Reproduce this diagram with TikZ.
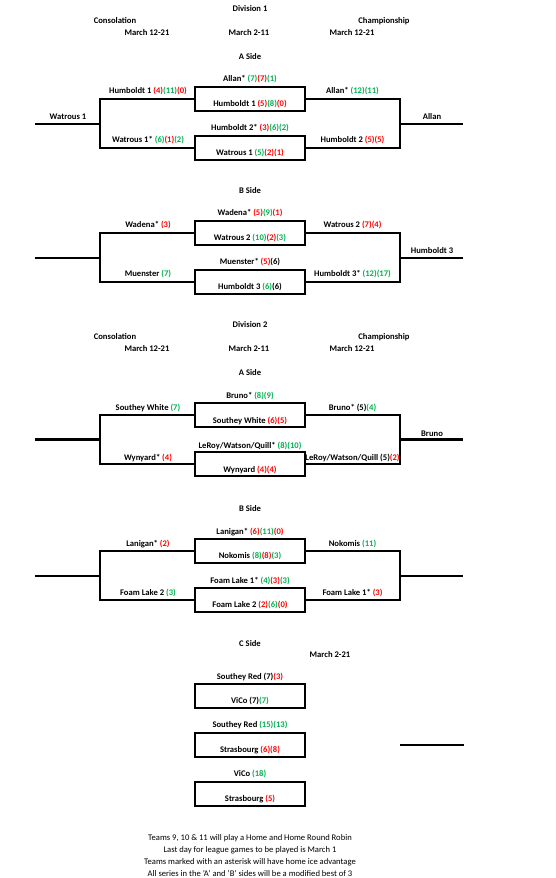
\documentclass[tikz,border=0pt]{standalone}
\usepackage{fontspec}
\setmainfont{Carlito}
\definecolor{wingreen}{HTML}{00B050}
\definecolor{lossred}{HTML}{FF0000}
\newcommand{\won}[1]{\textcolor{wingreen}{#1}}
\newcommand{\lost}[1]{\textcolor{lossred}{#1}}

\begin{document}
\begin{tikzpicture}[x=1pt,y=-1pt,
  team/.style={font=\bfseries\fontsize{8.6}{10}\selectfont,inner sep=0pt,text height=5.5pt,text depth=0pt},
  note/.style={font=\fontsize{8.6}{10}\selectfont,inner sep=0pt,text height=5.5pt,text depth=0pt},
  matchbox/.style={draw,line width=2pt,minimum width=110.6pt,minimum height=24pt,inner sep=0pt},
  bracket/.style={line width=2pt}]
\useasboundingbox (0,0) rectangle (556,878);
% division headings
\foreach \dy/\d in {0/1,316/2}{
\begin{scope}[shift={(0,\dy)}]
\node[team] (div\d) at (250,9) {Division \d};
\node[team] (cons\d) at (115,21) {Consolation};
\node[team] (champ\d) at (384,21) {Championship};
\node[team] (consdate\d) at (147,33) {March 12-21};
\node[team] (firstdate\d) at (249,33) {March 2-11};
\node[team] (champdate\d) at (352,33) {March 12-21};
\end{scope}}
% A and B sides
\foreach \dy/\s/\side/\w in {0/a/A/2,134/b/B/2,316/c/A/2.6,452/d/B/2}{
\begin{scope}[shift={(0,\dy)}]
\node[team] (side\s) at (250,57) {\side\ Side};
\node[matchbox] (top\s) at (250,98.7) {};
\node[matchbox] (bot\s) at (250,147.7) {};
\coordinate (lfork\s) at (99.5,123.5);
\coordinate (lend\s) at (35,123.5);
\coordinate (rfork\s) at (399.5,123.5);
\coordinate (rend\s) at (463,123.5);
\draw[bracket] (top\s.west) -| (lfork\s) |- (bot\s.west);
\draw[bracket] (top\s.east) -| (rfork\s) |- (bot\s.east);
\draw[line width=\w pt] (lend\s) -- (lfork\s);
\draw[line width=\w pt] (rfork\s) -- (rend\s);
\end{scope}}
% division 1, A side
\node[team] (allan) at (250,79) {Allan* \won{(7)}\lost{(7)}\won{(1)}};
\node[team] (humbA) at (148,91) {Humboldt 1 \lost{(4)}\won{(11)}\lost{(0)}};
\node[team] (allanA) at (352.5,91) {Allan* \won{(12)}\won{(11)}};
\node[team] (humb) at (250,104) {Humboldt 1 \lost{(5)}\won{(8)}\lost{(0)}};
\node[team] (watA) at (68,117) {Watrous 1};
\node[team] (allanwin) at (432,117) {Allan};
\node[team] (humbtwo) at (250,128) {Humboldt 2* \lost{(3)}\won{(6)}\won{(2)}};
\node[team] (watB) at (148,140) {Watrous 1* \won{(6)}\lost{(1)}\won{(2)}};
\node[team] (humbB) at (352.5,140) {Humboldt 2 \lost{(5)}\lost{(5)}};
\node[team] (wat) at (250,153) {Watrous 1 \won{(5)}\lost{(2)}\lost{(1)}};
% division 1, B side
\node[team] (wad) at (250,213) {Wadena* \lost{(5)}\won{(9)}\lost{(1)}};
\node[team] (wadA) at (148,225) {Wadena* \lost{(3)}};
\node[team] (wattwoA) at (352.5,225) {Watrous 2 \lost{(7)}\lost{(4)}};
\node[team] (wattwo) at (250,238) {Watrous 2 \won{(10)}\lost{(2)}\won{(3)}};
\node[team] (humbwin) at (432,251) {Humboldt 3};
\node[team] (mue) at (250,262) {Muenster* \lost{(5)}(6)};
\node[team] (mueB) at (148,274) {Muenster \won{(7)}};
\node[team] (humbthreeB) at (352.5,274) {Humboldt 3* \won{(12)}\won{(17)}};
\node[team] (humbthree) at (250,287) {Humboldt 3 \won{(6)}(6)};
% division 2, A side
\node[team] (bru) at (250,395.5) {Bruno* \won{(8)}\won{(9)}};
\node[team] (souA) at (148,408) {Southey White \won{(7)}};
\node[team] (bruA) at (352.5,408) {Bruno* (5)\won{(4)}};
\node[team] (sou) at (250,420.5) {Southey White \lost{(6)}\lost{(5)}};
\node[team] (bruwin) at (432,434) {Bruno};
\node[team] (lwq) at (250,445.5) {LeRoy/Watson/Quill* \won{(8)}\won{(10)}};
\node[team] (wynB) at (148,457.5) {Wynyard* \lost{(4)}};
\node[team] (lwqB) at (352.5,457.5) {LeRoy/Watson/Quill (5)\lost{(2)}};
\node[team] (wyn) at (250,470) {Wynyard \lost{(4)}\lost{(4)}};
% division 2, B side
\node[team] (lan) at (250,531.5) {Lanigan* \lost{(6)}\won{(11)}\lost{(0)}};
\node[team] (lanA) at (148,543.5) {Lanigan* \lost{(2)}};
\node[team] (nokA) at (352.5,543.5) {Nokomis \won{(11)}};
\node[team] (nok) at (250,556) {Nokomis \won{(8)}\lost{(8)}\won{(3)}};
\node[team] (foamone) at (250,580.5) {Foam Lake 1* \won{(4)}\lost{(3)}\won{(3)}};
\node[team] (foamtwoB) at (148,592.5) {Foam Lake 2 \won{(3)}};
\node[team] (foamoneB) at (352.5,592.5) {Foam Lake 1* \lost{(3)}};
\node[team] (foamtwo) at (250,605) {Foam Lake 2 \lost{(2)}\won{(6)}\lost{(0)}};
% C side
\node[team] (sidee) at (250,643.3) {C Side};
\node[team] (cdate) at (330,655) {March 2-21};
\foreach \y/\m in {696.3/1,745.3/2,794/3}
  \node[matchbox] (rr\m) at (250,\y) {};
\node[team] (redA) at (250,677) {Southey Red (7)\lost{(3)}};
\node[team] (vicoA) at (250,701) {ViCo (7)\won{(7)}};
\node[team] (redB) at (250,725) {Southey Red \won{(15)}\won{(13)}};
\node[team] (strasB) at (250,750) {Strasbourg \lost{(6)}\lost{(8)}};
\node[team] (vicoC) at (250,774) {ViCo \won{(18)}};
\node[team] (strasC) at (250,799) {Strasbourg \lost{(5)}};
\coordinate (cfork) at (400,744.7);
\coordinate (cend) at (464,744.7);
\draw[bracket] (cfork) -- (cend);
% notes
\node[note] (n1) at (250,837.3) {Teams 9, 10 \& 11 will play a Home and Home Round Robin};
\node[note] (n2) at (250,849.3) {Last day for league games to be played is March 1};
\node[note] (n3) at (250,861.3) {Teams marked with an asterisk will have home ice advantage};
\node[note] (n4) at (250,873.3) {All series in the 'A' and 'B' sides will be a modified best of 3};
\end{tikzpicture}
\end{document}
